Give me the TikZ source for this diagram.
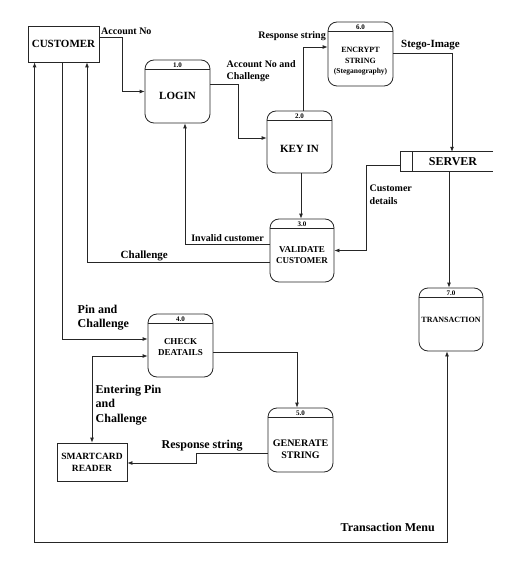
\documentclass[tikz,border=0pt]{standalone}
\usepackage{fontspec}
\setmainfont{Liberation Serif}
\usetikzlibrary{arrows.meta,calc}
\newcommand\hdrline[1]{\draw[line] ([yshift=-10pt]#1.north west) -- ([yshift=-10pt]#1.north east);}
\begin{document}
\begin{tikzpicture}[x=1pt,y=-1pt,
 line/.style={draw=black!85, line width=0.8pt},
 arr/.style={line, -{Latex[length=5pt,width=4pt]}},
 arr2/.style={line, {Latex[length=5pt,width=4pt]}-{Latex[length=5pt,width=4pt]}},
 proc/.style={draw=black!85, line width=0.8pt, rounded corners=9pt, minimum width=65pt, minimum height=63pt, inner sep=0pt},
 ent/.style={draw=black!85, line width=0.8pt, inner sep=0pt},
 num/.style={font=\bfseries\fontsize{7}{8}\selectfont, inner sep=0pt},
 ptxt/.style={font=\bfseries\fontsize{9}{11}\selectfont, align=center, inner sep=0pt},
 lbl/.style={font=\bfseries\fontsize{10}{12.5}\selectfont, align=left, inner sep=0pt},
 biglbl/.style={font=\bfseries\fontsize{12}{14.5}\selectfont, align=left, inner sep=0pt}]
\fill[white] (0,0) rectangle (524,561);
\useasboundingbox (0,0) rectangle (524,561);

% entities
\node[ent, minimum width=71pt, minimum height=36pt, font=\bfseries\fontsize{11}{13}\selectfont] (cust) at (63.5,44) {CUSTOMER};
\node[ent, minimum width=70pt, minimum height=38pt, align=center, font=\bfseries\fontsize{9.5}{12}\selectfont] (smart) at (92,462) {SMARTCARD\\READER};

% processes
\node[proc] (login) at (177.5,91.5) {};
\hdrline{login}
\node[num] (loginnum) at ([yshift=-5.5pt]login.north) {1.0};
\node[ptxt, font=\bfseries\fontsize{11}{13}\selectfont] (logintxt) at ([yshift=-4.5pt]login.center) {LOGIN};

\node[proc, minimum height=62pt] (keyin) at (299.5,142) {};
\hdrline{keyin}
\node[num] (keyinnum) at ([yshift=-5.5pt]keyin.north) {2.0};
\node[ptxt, font=\bfseries\fontsize{11}{13}\selectfont] (keyintxt) at ([yshift=-7pt]keyin.center) {KEY IN};

\node[proc, minimum height=64pt] (enc) at (360.5,54) {};
\hdrline{enc}
\node[num] (encnum) at ([yshift=-5.5pt]enc.north) {6.0};
\node[ptxt, font=\bfseries\fontsize{8}{10.5}\selectfont] (enctxt) at ([yshift=-7.5pt]enc.center) {ENCRYPT\\STRING\\{\fontsize{7.5}{9}\selectfont(Steganography)}};

\node[proc, minimum width=64pt] (val) at (302,250.5) {};
\hdrline{val}
\node[num] (valnum) at ([yshift=-5.5pt]val.north) {3.0};
\node[ptxt] (valtxt) at ([yshift=-5pt]val.center) {VALIDATE\\CUSTOMER};

\node[proc] (check) at (180.5,345.5) {};
\hdrline{check}
\node[num] (checknum) at ([yshift=-5.5pt]check.north) {4.0};
\node[ptxt] (checktxt) at ([yshift=-2pt]check.center) {CHECK\\DEATAILS};

\node[proc, minimum height=64pt] (gen) at (300.5,440) {};
\hdrline{gen}
\node[num] (gennum) at ([yshift=-5.5pt]gen.north) {5.0};
\node[ptxt, font=\bfseries\fontsize{10}{12}\selectfont] (gentxt) at ([yshift=-9pt]gen.center) {GENERATE\\STRING};

\node[proc, minimum width=64pt] (trans) at (451,319.5) {};
\hdrline{trans}
\node[num] (transnum) at ([yshift=-5.5pt]trans.north) {7.0};
\node[ptxt, font=\bfseries\fontsize{8}{10}\selectfont] (transtxt) at (trans.center) {TRANSACTION};

% data store
\node[inner sep=0pt, minimum width=80pt, minimum height=19pt, font=\bfseries\fontsize{12}{14}\selectfont] (server) at (453,161.5) {SERVER};
\draw[line] (server.north east) -- ([xshift=-12pt]server.north west) -- ([xshift=-12pt]server.south west) -- (server.south east);
\draw[line] (server.north west) -- (server.south west);

% flows
\draw[arr] ([yshift=7pt]cust.east) -- ++(23,0) |- (login.west);
\node[lbl, anchor=west] (l1) at (101,31.5) {Account No};

\draw[arr] ([yshift=7.5pt]login.east) -- ++(28,0) |- ([yshift=4pt]keyin.west);
\node[lbl, anchor=north west] (l2) at (226.5,60) {Account No and\\Challenge};

\draw[arr] ([xshift=3.5pt]keyin.north) |- ([yshift=7pt]enc.west);
\node[lbl, anchor=east] (l3) at (326,36) {Response string};

\draw[arr] ([yshift=1pt]enc.east) -| ([xshift=-1pt]server.north);
\node[lbl, font=\bfseries\fontsize{11}{13}\selectfont, anchor=west] (l4) at (401,45.5) {Stego-Image};

\draw[arr] ([xshift=-12pt,yshift=-3.5pt]server.west) -- ++(-34,0) |- (val.east);
\node[lbl, anchor=north west] (l5) at (369.5,185) {Customer\\details};

\draw[arr] ([xshift=-4pt]server.south) -- ([xshift=-2pt]trans.north);

\draw[arr] ([xshift=1.5pt]keyin.south) -- ([xshift=-1pt]val.north);

\draw[arr] ([yshift=6.5pt]val.west) -| ([xshift=7.5pt]login.south);
\node[lbl, anchor=east] (l6) at (264,238) {Invalid customer};

\draw[arr] ([yshift=-11.5pt]val.west) -| ([xshift=23.5pt]cust.south);
\node[lbl, font=\bfseries\fontsize{11}{13}\selectfont, anchor=west] (l7) at (120.5,256) {Challenge};

\draw[arr] ([xshift=-1.5pt]cust.south) |- ([yshift=6.5pt]check.west);
\node[biglbl, anchor=north west] (l8) at (77.5,304.5) {Pin and\\Challenge};

\draw[arr2] ([yshift=-10.5pt]check.west) -| (smart.north);
\node[biglbl, anchor=north west] (l9) at (95.5,384.5) {Entering Pin\\and\\Challenge};

\draw[arr] ([yshift=-6.5pt]check.east) -| ([xshift=-3.5pt]gen.north);

\draw[arr] ([yshift=-13pt]gen.west) -- ++(-71,0) |- ([yshift=-1pt]smart.east);
\node[biglbl, anchor=west] (l10) at (161.5,446) {Response string};

\draw[arr2] ([xshift=7pt]cust.south west) -- ++(0,480) -| ([xshift=-4pt]trans.south);
\node[biglbl, anchor=east] (l11) at (435,527) {Transaction Menu};
\end{tikzpicture}
\end{document}
